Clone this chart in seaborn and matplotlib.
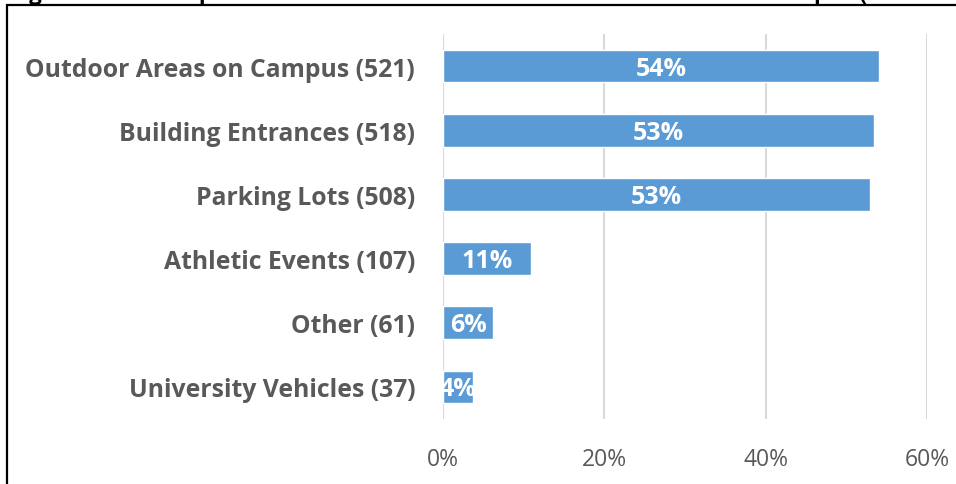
import matplotlib
matplotlib.use("Agg")
import matplotlib.pyplot as plt
import seaborn as sns
import pandas as pd
from matplotlib.patches import Rectangle

# --- data ---
categories = ["Outdoor Areas on Campus", "Building Entrances", "Parking Lots",
              "Athletic Events", "Other", "University Vehicles"]
counts = [521, 518, 508, 107, 61, 37]
percents = [54.0, 53.4, 52.9, 10.9, 6.2, 3.7]
x_ticks = [0, 20, 40, 60]
title = "Figure 4: Most Reported Areas of Concern Outside the Classroom on Campus (N = 965 Students)"

labels = [f"{c} ({n})" for c, n in zip(categories, counts)]
df = pd.DataFrame({"label": labels, "pct": percents})

sns.set_theme(style="white")
plt.rcParams["font.family"] = ["Open Sans", "DejaVu Sans"]

fig = plt.figure(figsize=(9.56, 4.85), dpi=100)
ax = fig.add_axes([443 / 956, 1 - 420 / 485, (927 - 443) / 956, (420 - 35) / 485])

sns.barplot(data=df, y="label", x="pct", color="#5B9BD5", saturation=1,
            width=0.51, ax=ax, zorder=3)

ax.set_xlim(0, 60)
ax.set_xticks(x_ticks)
ax.set_xticklabels([f"{t}%" for t in x_ticks], color="#595959", fontsize=16.5)
ax.tick_params(axis="x", length=0, pad=20)
ax.tick_params(axis="y", length=0, pad=20)
for t in ax.get_yticklabels():
    t.set_fontweight("bold")
    t.set_fontsize(17.8)
    t.set_color("#595959")
ax.set_xlabel("")
ax.set_ylabel("")
ax.grid(axis="x", color="#D9D9D9", linewidth=1.5, zorder=0)
for s in ax.spines.values():
    s.set_visible(False)

for p, v in zip(ax.patches, percents):
    ax.text(p.get_x() + p.get_width() / 2, p.get_y() + p.get_height() / 2 + 0.03,
            f"{round(v)}%", ha="center", va="center", color="white",
            fontsize=18, fontweight="bold", clip_on=True, zorder=4)

# clipped title and frame from the original figure
fig.text(10 / 956, 1.0, title, ha="left", va="baseline", fontsize=16,
         fontweight="bold", color="black")
fig.patches.append(Rectangle((7 / 956, -0.2), 1.2, 1.2 - 5.5 / 485,
                             transform=fig.transFigure, fill=False,
                             edgecolor="black", linewidth=1.6))

fig.savefig("out.png", dpi=100)
